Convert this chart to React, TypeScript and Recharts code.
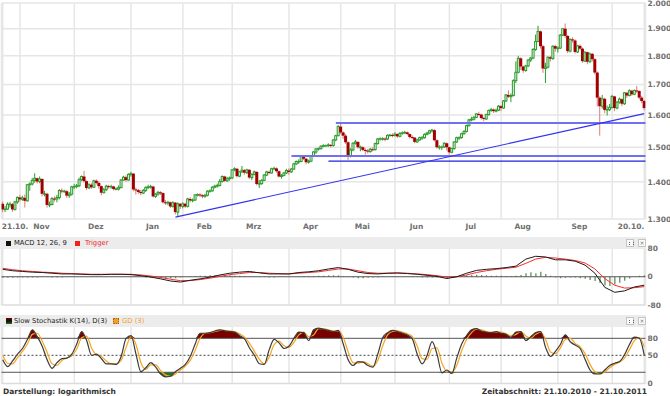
import React from "react";
import {
  ComposedChart,
  Bar,
  Line,
  Area,
  XAxis,
  YAxis,
  CartesianGrid,
  ReferenceLine,
} from "recharts";

// daily candles, 21.10.2010 - 20.10.2011 (trading days)
const OPEN = [
  1340, 1325, 1326, 1339, 1339, 1325, 1345, 1357, 1352, 1356, 1348, 1392, 1394, 1404, 1410, 1401, 1408, 1367, 1367, 1337,
  1338, 1354, 1353, 1357, 1376, 1374, 1374, 1362, 1366, 1386, 1387, 1389, 1406, 1415, 1402, 1383, 1392, 1385, 1403, 1397,
  1388, 1370, 1378, 1388, 1386, 1387, 1380, 1380, 1384, 1405, 1413, 1405, 1421, 1423, 1379, 1377, 1372, 1369, 1376, 1384,
  1386, 1387, 1360, 1366, 1371, 1369, 1344, 1342, 1344, 1333, 1343, 1318, 1340, 1333, 1340, 1333, 1353, 1349, 1350, 1364,
  1365, 1363, 1360, 1363, 1374, 1375, 1385, 1388, 1390, 1401, 1415, 1403, 1409, 1411, 1434, 1437, 1416, 1428, 1433, 1426,
  1434, 1412, 1421, 1428, 1394, 1395, 1404, 1419, 1428, 1425, 1437, 1438, 1430, 1415, 1418, 1425, 1432, 1428, 1436, 1451,
  1458, 1458, 1473, 1466, 1456, 1459, 1474, 1486, 1495, 1496, 1503, 1505, 1505, 1507, 1505, 1522, 1535, 1563, 1545, 1535,
  1515, 1475, 1492, 1512, 1516, 1500, 1500, 1492, 1490, 1487, 1494, 1493, 1511, 1525, 1526, 1526, 1525, 1536, 1537, 1536,
  1540, 1533, 1542, 1544, 1545, 1540, 1531, 1529, 1516, 1522, 1529, 1529, 1539, 1543, 1550, 1552, 1521, 1500, 1500, 1501,
  1512, 1500, 1485, 1496, 1516, 1529, 1529, 1541, 1548, 1566, 1584, 1586, 1592, 1603, 1601, 1590, 1587, 1601, 1614, 1617,
  1612, 1615, 1628, 1622, 1645, 1665, 1659, 1663, 1713, 1742, 1791, 1762, 1748, 1764, 1785, 1792, 1823, 1852, 1890, 1835,
  1755, 1760, 1795, 1790, 1835, 1826, 1828, 1876, 1900, 1873, 1817, 1860, 1856, 1814, 1836, 1826, 1781, 1813, 1779, 1807,
  1788, 1741, 1656, 1628, 1652, 1616, 1617, 1624, 1660, 1622, 1641, 1651, 1636, 1672, 1663, 1679, 1667, 1680, 1678, 1656,
  1645,
];
const HIGH = [
  1346, 1334, 1344, 1345, 1342, 1348, 1360, 1364, 1362, 1365, 1394, 1398, 1411, 1424, 1412, 1415, 1410, 1375, 1370, 1346,
  1358, 1360, 1364, 1380, 1382, 1378, 1377, 1372, 1389, 1394, 1394, 1412, 1418, 1431, 1404, 1396, 1396, 1406, 1407, 1402,
  1390, 1383, 1392, 1392, 1392, 1389, 1384, 1390, 1408, 1417, 1418, 1424, 1428, 1425, 1384, 1380, 1378, 1380, 1388, 1392,
  1392, 1389, 1369, 1375, 1374, 1371, 1350, 1348, 1346, 1347, 1345, 1344, 1342, 1344, 1343, 1356, 1358, 1354, 1366, 1368,
  1369, 1366, 1367, 1377, 1379, 1388, 1392, 1395, 1408, 1418, 1417, 1414, 1415, 1436, 1441, 1439, 1431, 1445, 1436, 1437,
  1436, 1424, 1432, 1430, 1405, 1408, 1422, 1431, 1432, 1440, 1443, 1441, 1432, 1422, 1428, 1437, 1438, 1439, 1454, 1461,
  1464, 1476, 1476, 1468, 1463, 1476, 1488, 1498, 1499, 1506, 1509, 1508, 1512, 1510, 1525, 1538, 1568, 1577, 1548, 1540,
  1518, 1497, 1515, 1522, 1518, 1505, 1503, 1497, 1495, 1498, 1500, 1514, 1528, 1530, 1530, 1530, 1539, 1540, 1542, 1545,
  1542, 1546, 1548, 1550, 1548, 1542, 1536, 1531, 1526, 1532, 1534, 1542, 1547, 1553, 1556, 1555, 1524, 1506, 1505, 1515,
  1514, 1502, 1498, 1518, 1532, 1533, 1544, 1552, 1569, 1588, 1594, 1596, 1606, 1610, 1604, 1594, 1604, 1617, 1622, 1621,
  1620, 1632, 1632, 1648, 1668, 1680, 1670, 1718, 1780, 1800, 1795, 1765, 1768, 1788, 1796, 1828, 1878, 1911, 1893, 1840,
  1775, 1798, 1800, 1838, 1840, 1834, 1880, 1902, 1920, 1876, 1864, 1868, 1860, 1840, 1842, 1830, 1816, 1815, 1812, 1810,
  1792, 1745, 1660, 1665, 1656, 1630, 1635, 1665, 1662, 1645, 1656, 1654, 1675, 1675, 1684, 1682, 1683, 1695, 1680, 1662,
  1648,
];
const LOW = [
  1318, 1318, 1324, 1330, 1319, 1322, 1340, 1346, 1348, 1330, 1346, 1375, 1390, 1398, 1395, 1396, 1360, 1360, 1330, 1331,
  1336, 1346, 1344, 1352, 1368, 1370, 1356, 1356, 1362, 1380, 1382, 1385, 1402, 1398, 1378, 1380, 1381, 1383, 1393, 1381,
  1363, 1368, 1375, 1381, 1381, 1376, 1377, 1376, 1382, 1403, 1400, 1403, 1415, 1374, 1365, 1367, 1363, 1366, 1372, 1380,
  1381, 1357, 1356, 1362, 1364, 1341, 1337, 1336, 1329, 1330, 1312, 1308, 1326, 1328, 1329, 1330, 1344, 1344, 1348, 1360,
  1358, 1355, 1356, 1360, 1370, 1373, 1382, 1384, 1387, 1398, 1400, 1400, 1403, 1408, 1430, 1412, 1413, 1425, 1420, 1422,
  1408, 1405, 1418, 1390, 1383, 1392, 1402, 1416, 1421, 1423, 1433, 1426, 1412, 1409, 1415, 1422, 1420, 1425, 1434, 1448,
  1451, 1456, 1462, 1450, 1452, 1456, 1471, 1480, 1490, 1493, 1500, 1502, 1501, 1499, 1502, 1518, 1533, 1540, 1525, 1510,
  1462, 1470, 1488, 1508, 1496, 1488, 1488, 1478, 1481, 1484, 1488, 1490, 1508, 1520, 1520, 1518, 1522, 1532, 1530, 1532,
  1528, 1530, 1538, 1540, 1536, 1526, 1524, 1512, 1513, 1519, 1522, 1526, 1536, 1540, 1545, 1518, 1496, 1493, 1492, 1498,
  1490, 1478, 1482, 1493, 1513, 1522, 1526, 1538, 1545, 1563, 1580, 1582, 1590, 1597, 1585, 1580, 1584, 1598, 1610, 1606,
  1608, 1612, 1612, 1620, 1642, 1655, 1641, 1660, 1705, 1738, 1750, 1740, 1744, 1760, 1778, 1788, 1818, 1850, 1826, 1740,
  1705, 1755, 1780, 1786, 1815, 1812, 1825, 1872, 1865, 1810, 1812, 1848, 1808, 1810, 1820, 1775, 1778, 1770, 1775, 1780,
  1735, 1627, 1535, 1620, 1605, 1598, 1612, 1620, 1612, 1618, 1636, 1628, 1632, 1655, 1660, 1662, 1664, 1672, 1650, 1638,
  1615,
];
const CLOSE = [
  1325, 1326, 1339, 1339, 1325, 1345, 1357, 1352, 1356, 1348, 1392, 1394, 1404, 1410, 1401, 1408, 1367, 1367, 1337, 1338,
  1354, 1353, 1357, 1376, 1374, 1374, 1362, 1366, 1386, 1387, 1389, 1406, 1415, 1402, 1383, 1392, 1385, 1403, 1397, 1388,
  1370, 1378, 1388, 1386, 1387, 1380, 1380, 1384, 1405, 1413, 1405, 1421, 1423, 1379, 1377, 1372, 1369, 1376, 1384, 1386,
  1387, 1360, 1366, 1371, 1369, 1344, 1342, 1344, 1333, 1343, 1318, 1340, 1333, 1340, 1333, 1353, 1349, 1350, 1364, 1365,
  1363, 1360, 1363, 1374, 1375, 1385, 1388, 1390, 1401, 1415, 1403, 1409, 1411, 1434, 1437, 1416, 1428, 1433, 1426, 1434,
  1412, 1421, 1428, 1394, 1395, 1404, 1419, 1428, 1425, 1437, 1438, 1430, 1415, 1418, 1425, 1432, 1428, 1436, 1451, 1458,
  1458, 1473, 1466, 1456, 1459, 1474, 1486, 1495, 1496, 1503, 1505, 1505, 1507, 1505, 1522, 1535, 1563, 1545, 1535, 1515,
  1475, 1492, 1512, 1516, 1500, 1500, 1492, 1490, 1487, 1494, 1493, 1511, 1525, 1526, 1526, 1525, 1536, 1537, 1536, 1540,
  1533, 1542, 1544, 1545, 1540, 1531, 1529, 1516, 1522, 1529, 1529, 1539, 1543, 1550, 1552, 1521, 1500, 1500, 1501, 1512,
  1500, 1485, 1496, 1516, 1529, 1529, 1541, 1548, 1566, 1584, 1586, 1592, 1603, 1601, 1590, 1587, 1601, 1614, 1617, 1612,
  1615, 1628, 1622, 1645, 1665, 1659, 1663, 1713, 1742, 1791, 1762, 1748, 1764, 1785, 1792, 1823, 1852, 1890, 1835, 1755,
  1760, 1795, 1790, 1835, 1826, 1828, 1876, 1900, 1873, 1817, 1860, 1856, 1814, 1836, 1826, 1781, 1813, 1779, 1807, 1788,
  1741, 1656, 1628, 1652, 1616, 1617, 1624, 1660, 1622, 1641, 1651, 1636, 1672, 1663, 1679, 1667, 1680, 1678, 1656, 1645,
  1622,
];

// month starts (trading-day index) and their labels
const MONTH_IDX = [0, 7, 29, 52, 73, 93, 116, 137, 159, 181, 202, 225, 247, 260];
const MONTH_LABELS = ["21.10.", "Nov", "Dez", "Jan", "Feb", "Mrz", "Apr", "Mai", "Jun", "Jul", "Aug", "Sep", "", "20.10."];
const PRICE_TICKS = [1300, 1400, 1500, 1600, 1700, 1800, 1900, 2000];

// drawn lines: horizontal levels and the trend line
const LEVELS = [1574, 1474, 1459];
const LEVEL_START = [135, 117, 132];
const TREND_IDX = [70, 260];
const TREND_PRICE = [1305, 1604];

// MACD 12,26,9 (every 4th day), histogram (every 2nd day)
const MACD = [
  21, 17, 15, 13, 12, 10, 8, 8, 7, 6, 6, 7, 7, 6, 3, -1, -6, -12, -15, -10, -6, -1, 5, 10, 13, 15, 11, 8, 8, 8, 12, 14, 17,
  22, 26, 21, 13, 9, 8, 10, 11, 9, 7, 4, 1, -5, 0, 10, 18, 21, 23, 26, 30, 50, 58, 56, 48, 48, 44, 33, 10, -30, -44, -40,
  -29, -24,
];
const TRIGGER = [
  24, 20, 17, 15, 13, 12, 10, 9, 8, 7, 7, 7, 7, 7, 5, 2, -2, -7, -11, -11, -8, -4, 1, 6, 9, 12, 12, 10, 9, 8, 10, 12, 14,
  18, 22, 22, 17, 12, 10, 10, 10, 10, 8, 6, 3, -1, 0, 5, 12, 17, 21, 24, 27, 38, 50, 55, 53, 50, 46, 39, 22, -5, -24, -32,
  -31, -28,
];
const HIST = [
  -3, -3, -3, -2, -2, -2, -2, -2, -1, -1, -2, -2, -2, -1, -1, 0, 0, 0, -1, -1, -1, -1, 0, 0, 0, 0, 0, -1, -1, -2, -3, -3,
  -4, -5, -5, -4, -2, 0, 1, 2, 3, 3, 4, 4, 4, 4, 4, 3, 3, 2, 1, 0, -1, -1, -2, -2, -1, -1, 0, 0, 1, 2, 2, 2, 3, 3, 4, 4, 4,
  2, -1, -2, -4, -4, -3, -2, -2, -1, 0, 1, 1, 0, 0, -1, -1, -2, -2, -2, -2, -3, -4, -3, -1, 2, 4, 5, 6, 5, 4, 3, 3, 3, 2, 2,
  3, 5, 10, 13, 10, 14, 8, 3, -2, -4, -3, -2, -2, -4, -6, -9, -12, -18, -25, -26, -22, -17, -11, -5, 1, 3, 4,
];
const MACD_TICKS = [-80, 0, 80];

// Slow Stochastik K(14), D(3) (every 2nd day)
const STOCH_K = [
  42, 30, 40, 52, 62, 78, 95, 83, 66, 42, 27, 37, 44, 45, 52, 70, 92, 76, 50, 52, 44, 35, 35, 34, 48, 80, 85, 52, 21, 28,
  37, 29, 17, 12, 13, 21, 27, 34, 48, 70, 89, 89, 90, 93, 95, 93, 92, 91, 85, 79, 63, 50, 35, 34, 60, 78, 72, 62, 66, 80,
  91, 90, 76, 95, 98, 96, 94, 92, 94, 70, 42, 32, 39, 38, 32, 29, 52, 81, 90, 94, 92, 89, 86, 79, 52, 35, 50, 74, 52, 19,
  24, 18, 45, 70, 85, 95, 97, 93, 91, 90, 92, 89, 87, 82, 91, 92, 76, 83, 90, 92, 64, 48, 57, 69, 86, 74, 68, 62, 43, 24,
  17, 17, 24, 32, 36, 39, 51, 69, 82, 80, 50,
];
const STOCH_D = [
  50, 36, 35, 46, 57, 70, 87, 89, 75, 55, 35, 32, 41, 45, 49, 61, 81, 84, 63, 51, 48, 40, 35, 35, 41, 64, 83, 69, 37, 25,
  33, 33, 23, 15, 13, 17, 24, 31, 41, 59, 80, 89, 90, 92, 94, 94, 93, 92, 88, 82, 71, 57, 43, 35, 47, 69, 75, 67, 64, 73,
  86, 91, 83, 86, 97, 97, 95, 93, 93, 82, 56, 37, 36, 39, 35, 31, 41, 67, 86, 92, 93, 91, 88, 83, 66, 44, 43, 62, 63, 36,
  22, 21, 32, 58, 78, 90, 96, 95, 92, 91, 91, 91, 88, 85, 87, 92, 84, 80, 87, 91, 78, 56, 53, 63, 78, 80, 71, 65, 53, 34,
  21, 17, 21, 28, 34, 38, 45, 60, 76, 81, 65,
];
const STOCH_TICKS = [0, 50, 80];

const FONT = "'DejaVu Sans', Verdana, sans-serif";
const AXIS_TEXT = { fontFamily: FONT, fontSize: 7.5, fontWeight: 700, fill: "#707070" };
const X_DOMAIN = [-0.5, 260.5];
const GRID = "#e6e6e6";

const priceRows = CLOSE.map((c, i) => ({
  i,
  o: OPEN[i],
  h: HIGH[i],
  l: LOW[i],
  c,
  range: [LOW[i], HIGH[i]],
}));

const macdRows = HIST.map((hist, j) => ({
  i: j * 2,
  hist,
  macd: j % 2 === 0 ? MACD[j / 2] : null,
  trig: j % 2 === 0 ? TRIGGER[j / 2] : null,
}));

const stochRows = STOCH_K.map((k, j) => ({
  i: j * 2,
  k,
  d: STOCH_D[j],
  over: [80, Math.max(80, k)],
  under: [Math.min(20, k), 20],
}));

const fmtPrice = (v: number) => `${Math.floor(v / 1000)}.${String(v % 1000).padStart(3, "0")}`;

function Candle(props: any) {
  const { x, y, width, height } = props;
  const p = props.payload ?? props;
  const top = Math.min(y, y + height);
  const h = Math.abs(height);
  const cx = x + width / 2;
  const span = Math.log(p.h) - Math.log(p.l) || 1;
  const py = (v: number) => top + ((Math.log(p.h) - Math.log(v)) / span) * h;
  const up = p.c >= p.o;
  const bTop = py(Math.max(p.o, p.c));
  const bBot = py(Math.min(p.o, p.c));
  return (
    <g>
      <line x1={cx} x2={cx} y1={top} y2={top + h} stroke={up ? "#2e9b2e" : "#dc7a7a"} strokeWidth={1} />
      {up ? (
        <rect x={cx - 1} y={bTop} width={2} height={Math.max(bBot - bTop, 0.5)} fill="#dff1df" stroke="#2e9b2e" strokeWidth={1} />
      ) : (
        <rect x={cx - 1.5} y={bTop} width={3} height={Math.max(bBot - bTop, 1)} fill="#a00000" />
      )}
    </g>
  );
}

function MonthTick(props: any) {
  const { x, y, payload } = props;
  const k = MONTH_IDX.indexOf(payload.value);
  const label = MONTH_LABELS[k];
  if (!label) return <g />;
  const first = k === 0;
  const last = k === MONTH_IDX.length - 1;
  return (
    <text
      x={first ? x - 1 : last ? x : x + 21.5}
      y={y + 8}
      textAnchor={first ? "start" : last ? "end" : "middle"}
      style={AXIS_TEXT}
    >
      {label}
    </text>
  );
}

function PriceTick(props: any) {
  const { x, y, payload } = props;
  return (
    <text x={x} y={y} dy={2.7} textAnchor="start" style={AXIS_TEXT}>
      {fmtPrice(payload.value)}
    </text>
  );
}

function PlainTick(props: any) {
  const { x, y, payload } = props;
  return (
    <text x={x} y={y} dy={2.7} textAnchor="start" style={AXIS_TEXT}>
      {payload.value}
    </text>
  );
}

function HeaderIcons({ top }: { top: number }) {
  const box = {
    position: "absolute" as const,
    top,
    width: 8,
    height: 8,
    boxSizing: "border-box" as const,
    border: "1px solid #c4c4c4",
    background: "#fafafa",
    fontSize: 6,
    lineHeight: "6px",
    textAlign: "center" as const,
    color: "#777",
  };
  return (
    <>
      <div style={{ ...box, left: 626 }}>
        <div style={{ position: "absolute", left: 1.5, top: 1.5, width: 3, height: 3, borderLeft: "1px dotted #666", borderRight: "1px dotted #666" }} />
      </div>
      <div style={{ ...box, left: 638 }}>×</div>
    </>
  );
}

const HEAD_TEXT = { position: "absolute" as const, top: 237, fontSize: 6.8, lineHeight: "12px", color: "#222" };

export default function App() {
  return (
    <div
      style={{
        position: "relative",
        width: 670,
        height: 396,
        background: "#fff",
        overflow: "hidden",
        fontFamily: FONT,
      }}
    >
      <style>{"body{margin:0}"}</style>

      {/* price chart */}
      <div style={{ position: "absolute", left: 0, top: 0 }}>
        <ComposedChart width={670} height={232} data={priceRows} margin={{ top: 3, right: 0, bottom: 0, left: 1.5 }}>
          <CartesianGrid stroke={GRID} strokeWidth={1.5} />
          <XAxis
            dataKey="i"
            type="number"
            domain={X_DOMAIN}
            ticks={MONTH_IDX}
            interval={0}
            tick={MonthTick}
            tickLine={false}
            axisLine={false}
            tickSize={0}
            height={13}
            allowDataOverflow
          />
          <YAxis
            orientation="right"
            scale="log"
            domain={[1300, 2000]}
            ticks={PRICE_TICKS}
            interval={0}
            tick={PriceTick}
            tickLine={false}
            axisLine={false}
            tickSize={0}
            tickMargin={2}
            width={24.5}
            allowDataOverflow
          />
          <Bar dataKey="range" shape={Candle} barSize={3} isAnimationActive={false} />
          {LEVELS.map((lv, k) => (
            <ReferenceLine
              key={k}
              segment={[
                { x: LEVEL_START[k], y: lv },
                { x: 260.5, y: lv },
              ]}
              stroke={k === 2 ? "#2020dd" : "#7070f5"}
              strokeWidth={k === 2 ? 1.2 : 2}
            />
          ))}
          <ReferenceLine
            segment={[
              { x: TREND_IDX[0], y: TREND_PRICE[0] },
              { x: TREND_IDX[1], y: TREND_PRICE[1] },
            ]}
            stroke="#3333ee"
            strokeWidth={1.2}
          />
        </ComposedChart>
      </div>

      {/* MACD header */}
      <div style={{ position: "absolute", left: 0, top: 237, width: 646, height: 11.5, background: "#ececec" }} />
      <div style={{ position: "absolute", left: 6, top: 240.5, width: 5, height: 5, background: "#111" }} />
      <div style={{ ...HEAD_TEXT, left: 14 }}>MACD 12, 26, 9</div>
      <div style={{ position: "absolute", left: 75, top: 240.5, width: 5, height: 5, background: "#ee2222" }} />
      <div style={{ ...HEAD_TEXT, left: 85, color: "#ee2222" }}>Trigger</div>
      <HeaderIcons top={239} />

      {/* MACD chart */}
      <div style={{ position: "absolute", left: 0, top: 240 }}>
        <ComposedChart width={670} height={75} data={macdRows} margin={{ top: 8.5, right: 0, bottom: 10, left: 1.5 }}>
          <CartesianGrid horizontal={false} stroke={GRID} strokeWidth={1.5} />
          <XAxis dataKey="i" type="number" domain={X_DOMAIN} ticks={MONTH_IDX} interval={0} hide allowDataOverflow />
          <YAxis
            orientation="right"
            domain={[-80, 80]}
            ticks={MACD_TICKS}
            interval={0}
            tick={PlainTick}
            tickLine={false}
            axisLine={false}
            tickSize={0}
            tickMargin={2}
            width={24.5}
            allowDataOverflow
          />
          <ReferenceLine y={-80} stroke="#dcdcdc" strokeWidth={1.5} />
          <ReferenceLine y={0} stroke="#555" strokeWidth={1} />
          <Bar dataKey="hist" fill="#5e8f5e" barSize={1.3} isAnimationActive={false} />
          <Line
            dataKey="trig"
            stroke="#ff2a2a"
            strokeWidth={1}
            dot={false}
            connectNulls
            isAnimationActive={false}
          />
          <Line
            dataKey="macd"
            stroke="#1a1a1a"
            strokeWidth={1}
            dot={false}
            connectNulls
            isAnimationActive={false}
          />
        </ComposedChart>
      </div>

      {/* Stochastik header */}
      <div style={{ position: "absolute", left: 0, top: 315, width: 646, height: 12, background: "#ececec" }} />
      <div
        style={{
          position: "absolute",
          left: 6,
          top: 318,
          width: 5.5,
          height: 5.5,
          background: "linear-gradient(#6a0000, #111 55%, #1a7a1a)",
        }}
      />
      <div style={{ ...HEAD_TEXT, top: 315, left: 14 }}>Slow Stochastik K(14), D(3)</div>
      <div
        style={{
          position: "absolute",
          left: 113,
          top: 318,
          width: 5.5,
          height: 5.5,
          background: "#f0a030",
          border: "0.5px dotted #b06a00",
          boxSizing: "border-box",
        }}
      />
      <div style={{ ...HEAD_TEXT, top: 315, left: 122, color: "#f0a030" }}>GD (3)</div>
      <HeaderIcons top={317} />

      {/* Stochastik chart */}
      <div style={{ position: "absolute", left: 0, top: 318 }}>
        <ComposedChart width={670} height={75} data={stochRows} margin={{ top: 9, right: 0, bottom: 9.4, left: 1.5 }}>
          <CartesianGrid horizontal={false} stroke={GRID} strokeWidth={1.5} />
          <XAxis dataKey="i" type="number" domain={X_DOMAIN} ticks={MONTH_IDX} interval={0} hide allowDataOverflow />
          <YAxis
            orientation="right"
            domain={[0, 100]}
            ticks={STOCH_TICKS}
            interval={0}
            tick={PlainTick}
            tickLine={false}
            axisLine={false}
            tickSize={0}
            tickMargin={2}
            width={24.5}
            allowDataOverflow
          />
          <ReferenceLine y={0} stroke="#dcdcdc" strokeWidth={1.5} />
          <Area
            dataKey="over"
            type="monotone"
            stroke="none"
            fill="#7a0000"
            fillOpacity={1}
            isAnimationActive={false}
          />
          <Area
            dataKey="under"
            type="monotone"
            stroke="none"
            fill="#1e7a1e"
            fillOpacity={1}
            isAnimationActive={false}
          />
          <ReferenceLine y={80} stroke="#555" strokeWidth={1} />
          <ReferenceLine y={20} stroke="#555" strokeWidth={1} />
          <ReferenceLine y={50} stroke="#444" strokeWidth={1} strokeDasharray="2 2" />
          <Line dataKey="d" type="monotone" stroke="#f5a623" strokeWidth={1.2} dot={false} isAnimationActive={false} />
          <Line dataKey="k" type="monotone" stroke="#3a3a3a" strokeWidth={1.2} dot={false} isAnimationActive={false} />
        </ComposedChart>
      </div>

      {/* footer */}
      <div
        style={{
          position: "absolute",
          left: 3,
          top: 386,
          fontSize: 7.5,
          fontWeight: 700,
          lineHeight: "11px",
          color: "#333",
        }}
      >
        Darstellung: logarithmisch
      </div>
      <div
        style={{
          position: "absolute",
          right: 23,
          top: 386,
          fontSize: 7.5,
          fontWeight: 700,
          lineHeight: "11px",
          color: "#333",
          whiteSpace: "nowrap",
        }}
      >
        Zeitabschnitt: 21.10.2010 - 21.10.2011
      </div>
    </div>
  );
}
